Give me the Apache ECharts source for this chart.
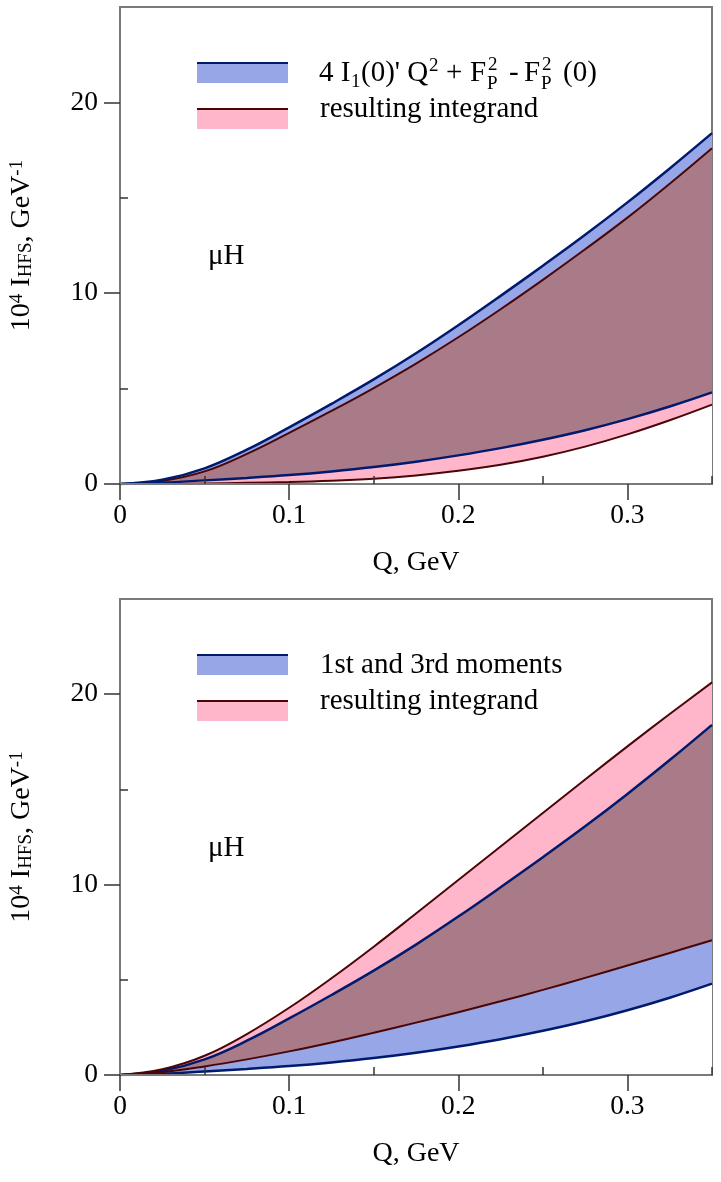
<!DOCTYPE html>
<html>
<head>
<meta charset="utf-8">
<script src="https://cdn.jsdelivr.net/npm/echarts@6/dist/echarts.min.js"></script>
<style>
  html, body { margin: 0; padding: 0; background: #fff; }
  #chart { width: 721px; height: 1182px; }
</style>
</head>
<body>
<div id="chart"></div>
<script>
// Q grid, GeV
const qValues = [0, 0.025, 0.05, 0.075, 0.1, 0.125, 0.15, 0.175, 0.2, 0.225, 0.25, 0.275, 0.3, 0.325, 0.35];

// blue band (same in both panels)
const blueHigh = [0, 0.22, 0.82, 1.80, 2.97, 4.20, 5.48, 6.85, 8.32, 9.86, 11.44, 13.06, 14.76, 16.54, 18.39];
const blueLow  = [0, 0.07, 0.19, 0.32, 0.47, 0.66, 0.89, 1.17, 1.50, 1.88, 2.32, 2.82, 3.40, 4.06, 4.80];

// top panel: resulting integrand
const pinkHighTop = [0, 0.16, 0.66, 1.58, 2.68, 3.83, 5.03, 6.31, 7.69, 9.16, 10.70, 12.30, 13.96, 15.74, 17.60];
const pinkLowTop  = [0, 0.01, 0.03, 0.06, 0.10, 0.17, 0.28, 0.45, 0.69, 1.01, 1.43, 1.96, 2.60, 3.34, 4.16];

// bottom panel: resulting integrand
const pinkHighBot = [0, 0.30, 1.01, 2.15, 3.53, 5.08, 6.74, 8.48, 10.24, 12.00, 13.76, 15.52, 17.26, 18.96, 20.62];
const pinkLowBot  = [0, 0.15, 0.45, 0.82, 1.24, 1.71, 2.22, 2.75, 3.30, 3.87, 4.47, 5.10, 5.75, 6.41, 7.08];

// ticks
const xMajorTicks = [0, 0.1, 0.2, 0.3];
const xTickLabels = ['0', '0.1', '0.2', '0.3'];
const xMinorTicks = [0.05, 0.15, 0.25, 0.35];
const yMajorTicks = [0, 10, 20];
const yTickLabels = ['0', '10', '20'];
const yMinorTicks = [5, 15];

const FONT = 'Liberation Serif';
const AXIS_GRAY = '#7a7a7a';
const BLUE_FILL = '#97a6e6';
const PINK_FILL = '#ffb6ca';
const MAUVE_FILL = '#a97b89';
const NAVY = '#001a6e';
const MAROON = '#4a0606';

const zip = (ys) => qValues.map((q, i) => [q, ys[i]]);

let chart = echarts.init(document.getElementById('chart'));

const grids = [
  { left: 119, top: 7, width: 593, height: 477 },
  { left: 119, top: 599, width: 593, height: 476 }
];

function xAxes(g) {
  return [{
    type: 'value', gridIndex: g, min: 0, max: 0.35, z: 10,
    name: 'Q, GeV', nameLocation: 'middle', nameGap: 65,
    nameTextStyle: { fontFamily: FONT, fontSize: 28, color: '#000' },
    axisLine: { show: true, lineStyle: { color: AXIS_GRAY, width: 2 } },
    axisTick: { show: true, inside: false, length: 16, customValues: xMajorTicks,
      lineStyle: { color: '#333', width: 1.5 } },
    axisLabel: { customValues: xMajorTicks, margin: 18,
      formatter: (v) => xTickLabels[xMajorTicks.indexOf(v)],
      fontFamily: FONT, fontSize: 27.5, color: '#000' },
    splitLine: { show: false }
  }, {
    type: 'value', gridIndex: g, min: 0, max: 0.35, z: 10,
    axisLine: { show: false },
    axisTick: { show: true, inside: false, length: 8, customValues: xMinorTicks,
      lineStyle: { color: '#333', width: 1.5 } },
    axisLabel: { show: false },
    splitLine: { show: false }
  }];
}

function yAxes(g) {
  return [{
    type: 'value', gridIndex: g, min: 0, max: 25, z: 10,
    name: '{t|10}{sup|4}{t| I}{sub|HFS}{t|, GeV}{sup|-1}',
    nameLocation: 'middle', nameGap: 84, nameRotate: 90,
    nameTextStyle: {
      fontFamily: FONT, fontSize: 28, color: '#000',
      rich: {
        t: { fontFamily: FONT, fontSize: 28, color: '#000' },
        sup: { fontFamily: FONT, fontSize: 19, color: '#000', verticalAlign: 'top' },
        sub: { fontFamily: FONT, fontSize: 19, color: '#000', verticalAlign: 'bottom' }
      }
    },
    axisLine: { show: true, lineStyle: { color: AXIS_GRAY, width: 2 } },
    axisTick: { show: true, inside: false, length: 16, customValues: yMajorTicks,
      lineStyle: { color: '#333', width: 1.5 } },
    axisLabel: { customValues: yMajorTicks, margin: 22,
      formatter: (v) => yTickLabels[yMajorTicks.indexOf(v)],
      fontFamily: FONT, fontSize: 27.5, color: '#000' },
    splitLine: { show: false }
  }, {
    type: 'value', gridIndex: g, min: 0, max: 25, z: 10,
    axisLine: { show: false },
    axisTick: { show: true, inside: false, length: 8, customValues: yMinorTicks,
      lineStyle: { color: '#333', width: 1.5 } },
    axisLabel: { show: false },
    splitLine: { show: false }
  }];
}

// areas painted from the axis upward, in order, so each later fill covers
// the lower part of the earlier one -> bands and their overlap
function fillSeries(axisIdx, ys, color, order) {
  return {
    type: 'line', xAxisIndex: axisIdx, yAxisIndex: axisIdx,
    data: zip(ys), symbol: 'none', smooth: 0.4,
    lineStyle: { width: 0, opacity: 0 },
    areaStyle: { color: color, opacity: 1, origin: 'start' },
    z: 2, zlevel: 0, silent: true, // order via series order
    emphasis: { disabled: true }
  };
}

function lineSeries(axisIdx, ys, color, width) {
  return {
    type: 'line', xAxisIndex: axisIdx, yAxisIndex: axisIdx,
    data: zip(ys), symbol: 'none', smooth: 0.4,
    lineStyle: { color: color, width: width }, z: 5,
    emphasis: { disabled: true }
  };
}

const series = [
  // top panel: pinkLow < blueLow < pinkHigh < blueHigh
  fillSeries(0, blueHigh, BLUE_FILL),
  fillSeries(0, pinkHighTop, MAUVE_FILL),
  fillSeries(0, blueLow, PINK_FILL),
  fillSeries(0, pinkLowTop, '#ffffff'),
  lineSeries(0, pinkLowTop, MAROON, 2),
  lineSeries(0, pinkHighTop, MAROON, 2),
  lineSeries(0, blueLow, NAVY, 2.5),
  lineSeries(0, blueHigh, NAVY, 2.5),
  // bottom panel: blueLow < pinkLow < blueHigh < pinkHigh
  fillSeries(2, pinkHighBot, PINK_FILL),
  fillSeries(2, blueHigh, MAUVE_FILL),
  fillSeries(2, pinkLowBot, BLUE_FILL),
  fillSeries(2, blueLow, '#ffffff'),
  lineSeries(2, blueLow, NAVY, 2.5),
  lineSeries(2, blueHigh, NAVY, 2.5),
  lineSeries(2, pinkLowBot, MAROON, 2),
  lineSeries(2, pinkHighBot, MAROON, 2)
];

// legend / annotation graphics
function txt(x, baseline, text, size) {
  return { type: 'text', x: x, y: baseline - 0.3 * size, silent: true, z: 20,
    style: { text: text, fontFamily: FONT, fontSize: size, fill: '#000', verticalAlign: 'middle', align: 'left' } };
}
function swatch(y, fill, line) {
  return [
    { type: 'rect', shape: { x: 197, y: y, width: 91, height: 21 }, style: { fill: fill }, silent: true, z: 20 },
    { type: 'line', shape: { x1: 197, y1: y + 1, x2: 288, y2: y + 1 }, style: { stroke: line, lineWidth: 2 }, silent: true, z: 21 }
  ];
}
function panelGraphics(dy, firstLabel) {
  const g = [].concat(swatch(62 + dy, BLUE_FILL, NAVY), swatch(108 + dy, PINK_FILL, MAROON));
  return g.concat(firstLabel(dy), [
    txt(320, 118 + dy, 'resulting integrand', 29),
    txt(208, 265 + dy, 'μH', 29)
  ]);
}
const topLabel = (dy) => [
  txt(319, 82 + dy, '4 I', 29),
  txt(351, 88 + dy, '1', 19),
  txt(361, 82 + dy, "(0)' Q", 29),
  txt(429, 72 + dy, '2', 19),
  txt(446, 82 + dy, '+', 29),
  txt(470, 82 + dy, 'F', 29),
  txt(488, 71 + dy, '2', 19),
  txt(487, 90 + dy, 'P', 19),
  txt(509, 82 + dy, '-', 29),
  txt(524, 82 + dy, 'F', 29),
  txt(542, 71 + dy, '2', 19),
  txt(541, 90 + dy, 'P', 19),
  txt(563, 82 + dy, '(0)', 29)
];
const botLabel = (dy) => [txt(320, 82 + dy, '1st and 3rd moments', 29)];

const option = {
  animation: false,
  backgroundColor: '#fff',
  grid: grids.map(g => Object.assign({ show: true, borderColor: AXIS_GRAY, borderWidth: 2, backgroundColor: 'transparent' }, g)),
  xAxis: xAxes(0).concat(xAxes(1)),
  yAxis: yAxes(0).concat(yAxes(1)),
  series: series,
  graphic: panelGraphics(0, topLabel).concat(panelGraphics(592, botLabel))
};

chart.setOption(option);
</script>
</body>
</html>
